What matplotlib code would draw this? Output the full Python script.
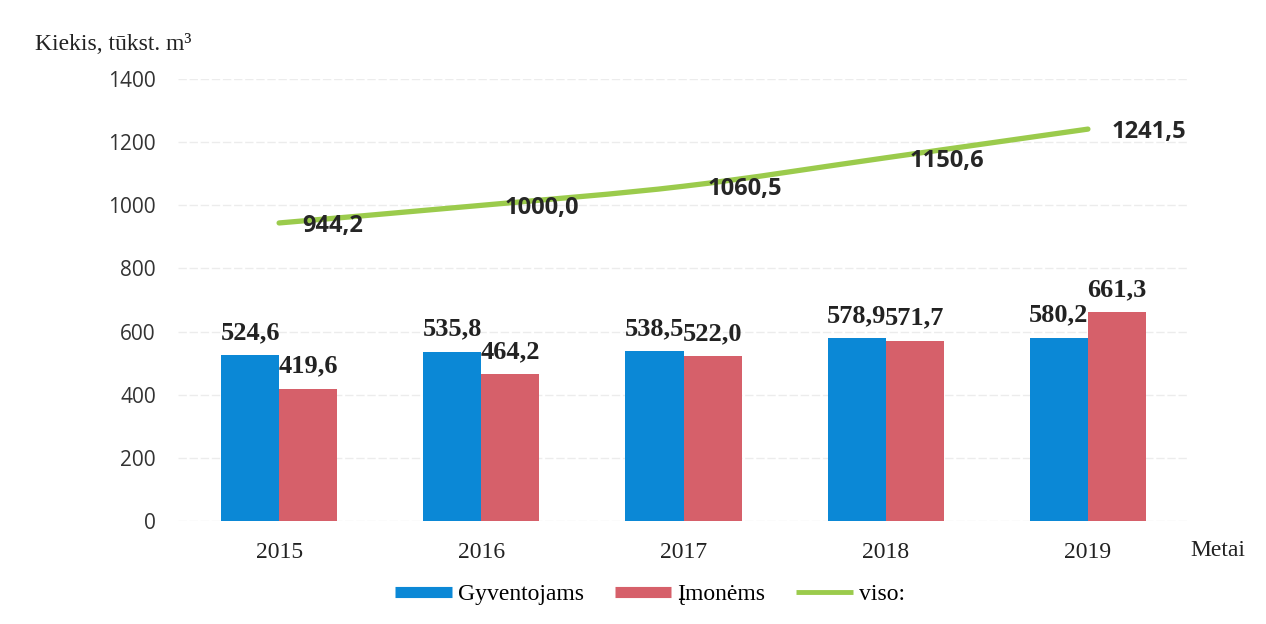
import numpy as np
import matplotlib.pyplot as plt
from matplotlib.path import Path
from matplotlib.patches import PathPatch
from matplotlib.lines import Line2D

metai = ['2015', '2016', '2017', '2018', '2019']
gyventojams = [524.6, 535.8, 538.5, 578.9, 580.2]
imonems = [419.6, 464.2, 522.0, 571.7, 661.3]
viso = [944.2, 1000.0, 1060.5, 1150.6, 1241.5]

blue = '#0b88d6'
red = '#d6606a'
green = '#9bcb4c'
serif = 'Liberation Serif'
sans = 'Open Sans'

def fmt(v):
    return f'{v:.1f}'.replace('.', ',')

fig = plt.figure(figsize=(12.66, 6.24), dpi=100)
ax = fig.add_axes([0.1406, 0.165, 0.7986, 0.7083])

x = np.arange(len(metai))
w = 0.287
b1 = ax.bar(x - w/2, gyventojams, w, color=blue, zorder=2)
b2 = ax.bar(x + w/2, imonems, w, color=red, zorder=2)

for r, v in zip(b1, gyventojams):
    ax.annotate(fmt(v), (r.get_x() + r.get_width()/2, v), xytext=(0, 8),
                textcoords='offset points', ha='center', va='bottom',
                fontsize=19, fontweight='bold', family=serif, color='#222222')
for r, v in zip(b2, imonems):
    ax.annotate(fmt(v), (r.get_x() + r.get_width()/2, v), xytext=(0, 8),
                textcoords='offset points', ha='center', va='bottom',
                fontsize=19, fontweight='bold', family=serif, color='#222222')

# smoothed line (catmull-rom -> bezier), like excel's smooth line
pts = np.column_stack([x, viso]).astype(float)
verts = [pts[0]]
codes = [Path.MOVETO]
n = len(pts)
for i in range(n - 1):
    p0 = pts[max(i - 1, 0)]
    p1 = pts[i]
    p2 = pts[i + 1]
    p3 = pts[min(i + 2, n - 1)]
    c1 = p1 + (p2 - p0) / 6
    c2 = p2 - (p3 - p1) / 6
    verts += [c1, c2, p2]
    codes += [Path.CURVE4] * 3
ax.add_patch(PathPatch(Path(verts, codes), fill=False, edgecolor=green,
                       lw=3.8, capstyle='round', zorder=3))

for xi, v in zip(x, viso):
    ax.annotate(fmt(v), (xi, v), xytext=(17, -2), textcoords='offset points',
                ha='left', va='center', fontsize=17, fontweight='bold',
                family=sans, color='#262626', zorder=4)

ax.set_xlim(-0.5, len(metai) - 0.5)
ax.set_ylim(0, 1400)
ax.set_yticks(range(0, 1401, 200))
ax.set_xticks(x)
ax.set_xticklabels(metai, fontsize=17, family=serif, color='#222222')
for t in ax.get_yticklabels():
    t.set_fontsize(15)
    t.set_family(sans)
    t.set_color('#333333')
ax.tick_params(axis='y', length=0, pad=16)
ax.tick_params(axis='x', length=0, pad=15)
ax.grid(axis='y', color='#ececec', lw=1, ls=(0, (6, 2)), zorder=0)
for s in ax.spines.values():
    s.set_visible(False)

fig.text(35/1266, 1 - 45/624, 'Kiekis, tūkst. m³', fontsize=17, family=serif,
         ha='left', va='center', color='#222222')
fig.text(1190/1266, 1 - 550/624, 'Metai', fontsize=17, family=serif,
         ha='left', va='center', color='#222222')

handles = [Line2D([], [], color=blue, lw=8, solid_capstyle='butt'),
           Line2D([], [], color=red, lw=8, solid_capstyle='butt'),
           Line2D([], [], color=green, lw=3.5, solid_capstyle='butt')]
fig.legend(handles, ['Gyventojams', 'Įmonėms', 'viso:'], loc='center',
           bbox_to_anchor=(650/1266, 1 - 594/624), ncol=3, frameon=False,
           prop={'family': serif, 'size': 17}, handlelength=2.4,
           handletextpad=0.25, columnspacing=1.3)

fig.savefig('out.png', dpi=100)
